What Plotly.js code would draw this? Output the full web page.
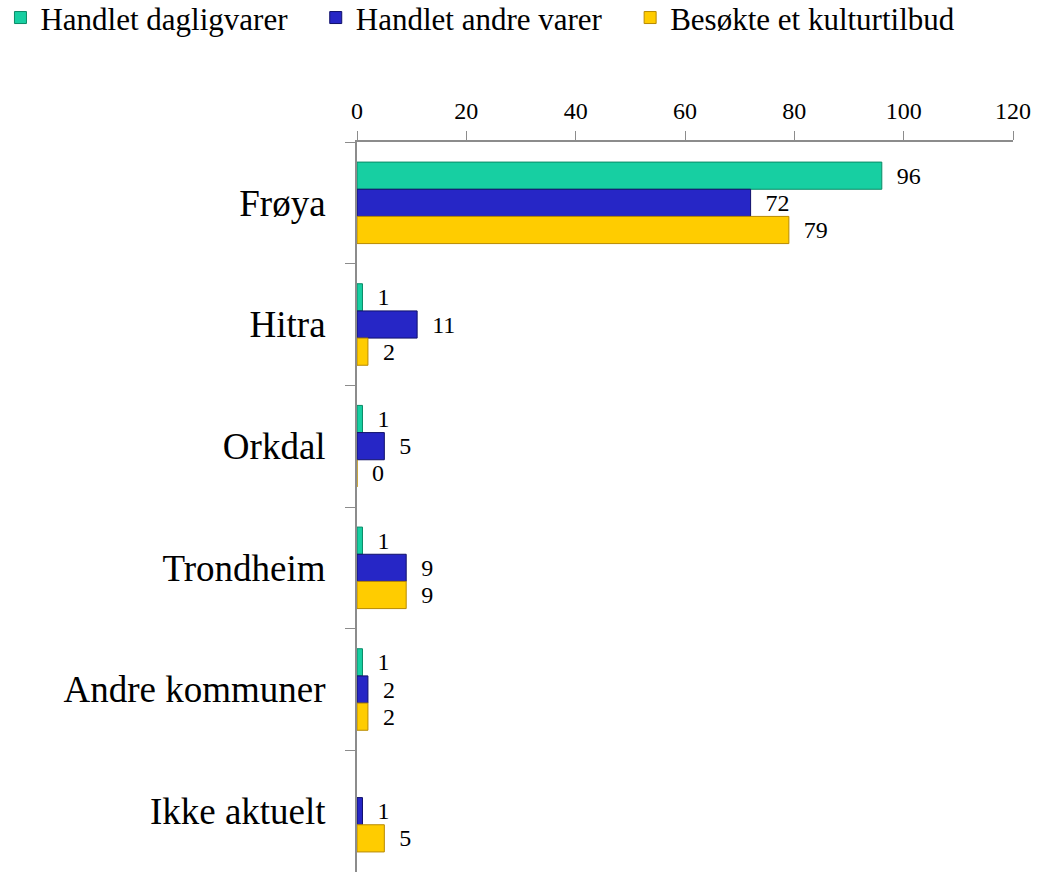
<!DOCTYPE html>
<html>
<head>
<meta charset="utf-8">
<script src="https://cdn.plot.ly/plotly-3.0.1.min.js"></script>
<style>
  html, body { margin: 0; padding: 0; background: #fff; }
  #chart { width: 1037px; height: 872px; }
</style>
</head>
<body>
<div id="chart"></div>
<script>
// Categories, top to bottom
const kommuner = ["Frøya", "Hitra", "Orkdal", "Trondheim", "Andre kommuner", "Ikke aktuelt"];

// Series values
const dagligvarer = [96, 1, 1, 1, 1, null];
const andreVarer = [72, 11, 5, 9, 2, 1];
const kulturtilbud = [79, 2, 0, 9, 2, 5];

const seriesNames = ["Handlet dagligvarer", "Handlet andre varer", "Besøkte et kulturtilbud"];
const seriesColors = ["#17cfa2", "#2626c6", "#ffcc00"];
const lineColors = ["#0a8a66", "#10106a", "#b88a00"];

const xTicks = [0, 20, 40, 60, 80, 100, 120];

const font = "'Liberation Serif', 'Times New Roman', serif";
const nb = "\u00A0";

function makeTrace(values, i) {
    return {
        type: "bar",
        orientation: "h",
        // trailing spaces widen the legend entries to match the original spacing
        name: seriesNames[i] + (i < 2 ? nb.repeat(3) : ""),
        x: values,
        y: kommuner,
        // small gap between bar end and label, like the original
        text: values.map(v => v === null ? "" : nb + nb + v),
        textposition: "outside",
        cliponaxis: false,
        textfont: {family: font, size: 24, color: "#000"},
        marker: {color: seriesColors[i], line: {color: lineColors[i], width: 1}},
        hoverinfo: "x+name"
    };
}

const data = [
    makeTrace(dagligvarer, 0),
    makeTrace(andreVarer, 1),
    makeTrace(kulturtilbud, 2)
];

const layout = {
    width: 1037,
    height: 872,
    margin: {l: 357, r: 24, t: 142, b: 0, autoexpand: false},
    paper_bgcolor: "#fff",
    plot_bgcolor: "#fff",
    font: {family: font, color: "#000"},
    barmode: "group",
    bargap: 0.33,
    bargroupgap: 0,
    showlegend: true,
    legend: {
        orientation: "h",
        x: -0.5435, xanchor: "left",
        y: 1.207, yanchor: "top",
        font: {family: font, size: 31, color: "#000"},
        traceorder: "normal"
    },
    xaxis: {
        side: "top",
        range: [0, 120],
        tickvals: xTicks,
        ticktext: xTicks.map(String),
        ticks: "outside",
        ticklen: 9,
        tickcolor: "#8c8c8c",
        showline: true,
        linecolor: "#8c8c8c",
        linewidth: 2,
        showgrid: false,
        zeroline: false,
        ticklabelstandoff: 2,
        tickfont: {family: font, size: 24, color: "#000"}
    },
    yaxis: {
        type: "category",
        autorange: "reversed",
        tickson: "boundaries",
        ticks: "outside",
        ticklen: 10,
        tickcolor: "#8c8c8c",
        showline: true,
        linecolor: "#8c8c8c",
        linewidth: 2,
        showgrid: false,
        zeroline: false,
        ticklabelstandoff: 22,
        tickfont: {family: font, size: 37, color: "#000"}
    }
};

Plotly.newPlot("chart", data, layout, {displayModeBar: false, staticPlot: true});
</script>
</body>
</html>
